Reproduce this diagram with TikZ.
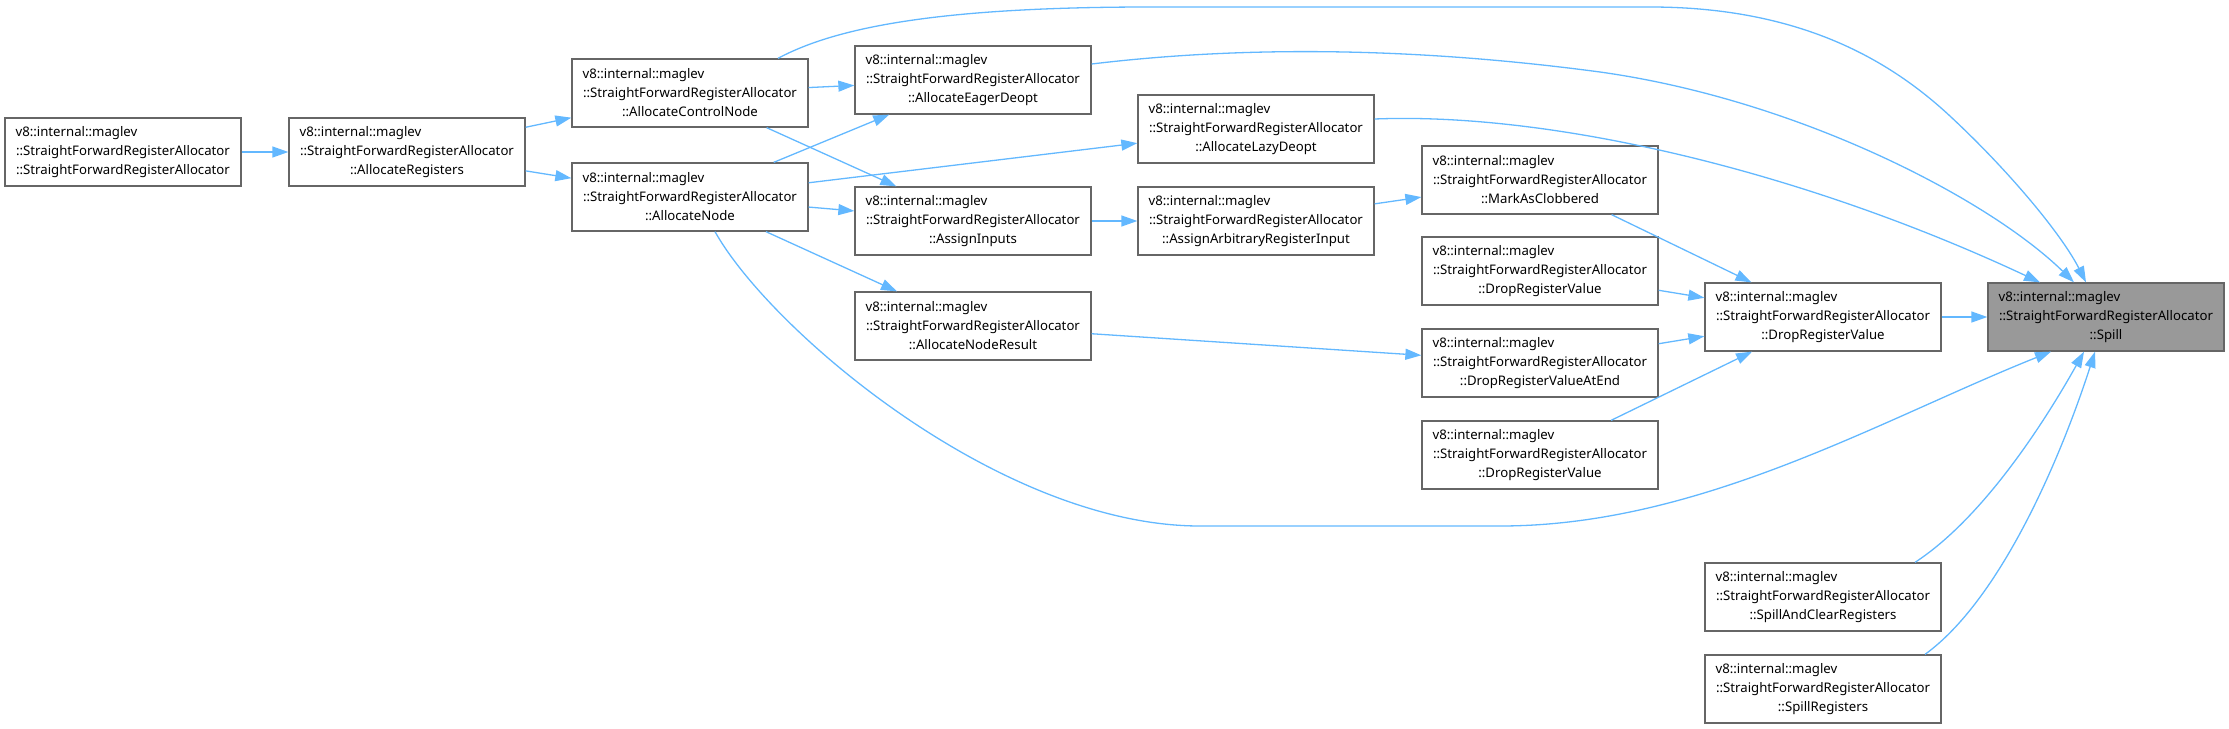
\documentclass[tikz,border=0pt]{standalone}
\usepackage{fontspec}
\setmainfont{Noto Sans}
\usepackage{tikz}
\usetikzlibrary{
    arrows.meta
}
\definecolor{edgeblue}{HTML}{63B8FF}
\definecolor{boxgray}{HTML}{666666}
\definecolor{spillgray}{HTML}{999999}
\newlength\fnwidth
\newcommand{\fnname}[1]{v8::internal::maglev\hspace{0pt plus 1filll}\null\\::StraightForwardRegisterAllocator\\::#1}
\tikzset{
    >={Triangle[length=16pt,width=11pt]},
    fn/.style={
        draw=boxgray,
        line width=1.3pt,
        fill=white,
        minimum width=236pt,
        minimum height=68pt,
        inner xsep=0pt,
        inner ysep=2pt,
        text width=\fnwidth,
        align=center,
        font=\fontsize{13.2}{19}\selectfont
    },
    call/.style={
        ->,
        draw,
        color=edgeblue,
        line width=1.3pt
    }
}

\begin{document}
\settowidth{\fnwidth}{\fontsize{13.2}{19}\selectfont ::StraightForwardRegisterAllocator}
\addtolength{\fnwidth}{1pt}
\begin{tikzpicture}[
    x=1pt,
    y=-1pt
]
    \useasboundingbox (0,0) rectangle (2229,728);

    % Funciones
    \node[fn] (ctor)       at (123,152)  {\fnname{StraightForwardRegisterAllocator}};
    \node[fn] (allocRegs)  at (407,152)  {\fnname{AllocateRegisters}};

    \node[fn] (allocCtrl)  at (690,93)   {\fnname{AllocateControlNode}};
    \node[fn] (allocNode)  at (690,197)  {\fnname{AllocateNode}};

    \node[fn] (eagerDeopt) at (973,80)   {\fnname{AllocateEagerDeopt}};
    \node[fn] (assignIn)   at (973,221)  {\fnname{AssignInputs}};
    \node[fn] (nodeResult) at (973,326)  {\fnname{AllocateNodeResult}};

    \node[fn] (lazyDeopt)  at (1256,129) {\fnname{AllocateLazyDeopt}};
    \node[fn] (assignArb)  at (1256,221) {\fnname{AssignArbitraryRegisterInput}};

    \node[fn] (clobbered)  at (1540,180) {\fnname{MarkAsClobbered}};
    \node[fn] (dropA)      at (1540,271) {\fnname{DropRegisterValue}};
    \node[fn] (dropEnd)    at (1540,363) {\fnname{DropRegisterValueAtEnd}};
    \node[fn] (dropB)      at (1540,455) {\fnname{DropRegisterValue}};

    \node[fn] (dropVal)    at (1823,317) {\fnname{DropRegisterValue}};
    \node[fn] (spillClear) at (1823,597) {\fnname{SpillAndClearRegisters}};
    \node[fn] (spillRegs)  at (1823,689) {\fnname{SpillRegisters}};

    % Funcion llamada
    \node[fn, fill=spillgray] (spill) at (2106,317) {\fnname{Spill}};

    % Llamadas directas
    \path[call]
        (ctor)       edge (allocRegs)
        (allocRegs)  edge (allocCtrl)
                     edge (allocNode)
        (allocCtrl)  edge (eagerDeopt)
                     edge (assignIn)
        (allocNode)  edge (eagerDeopt)
                     edge (lazyDeopt)
                     edge (assignIn)
                     edge (nodeResult)
        (assignIn)   edge (assignArb)
        (assignArb)  edge (clobbered)
        (nodeResult) edge (dropEnd)
        (clobbered)  edge (dropVal)
        (dropA)      edge (dropVal)
        (dropEnd)    edge (dropVal)
        (dropB)      edge (dropVal)
        (dropVal)    edge (spill);

    % Curvas hacia Spill
    \draw[call] ([xshift=88pt]allocCtrl.north)
        .. controls (840,25) and (950,7) .. (1150,7)
        -- (1650,7)
        .. controls (1800,7) and (1890,60) .. (1951,117)
        .. controls (2010,172) and (2062,235) .. ([xshift=-20pt]spill.north);
    \draw[call] ([yshift=16pt]eagerDeopt.east)
        .. controls (1250,45) and (1420,48) .. (1600,72)
        .. controls (1800,100) and (1990,200) .. ([xshift=-32pt]spill.north);
    \draw[call] ([yshift=10pt]lazyDeopt.east)
        .. controls (1550,112) and (1800,170) .. ([xshift=-66pt]spill.north);
    \draw[call] ([xshift=25pt]allocNode.south)
        .. controls (770,330) and (1000,526) .. (1200,526)
        -- (1500,526)
        .. controls (1700,526) and (1880,420) .. ([xshift=-55pt]spill.south);
    \draw[call] ([xshift=92pt]spillClear.north)
        .. controls (1980,520) and (2040,430) .. ([xshift=-22pt]spill.south);
    \draw[call] ([xshift=102pt]spillRegs.north)
        .. controls (2000,600) and (2060,460) .. ([xshift=-11pt]spill.south);

\end{tikzpicture}
\end{document}
